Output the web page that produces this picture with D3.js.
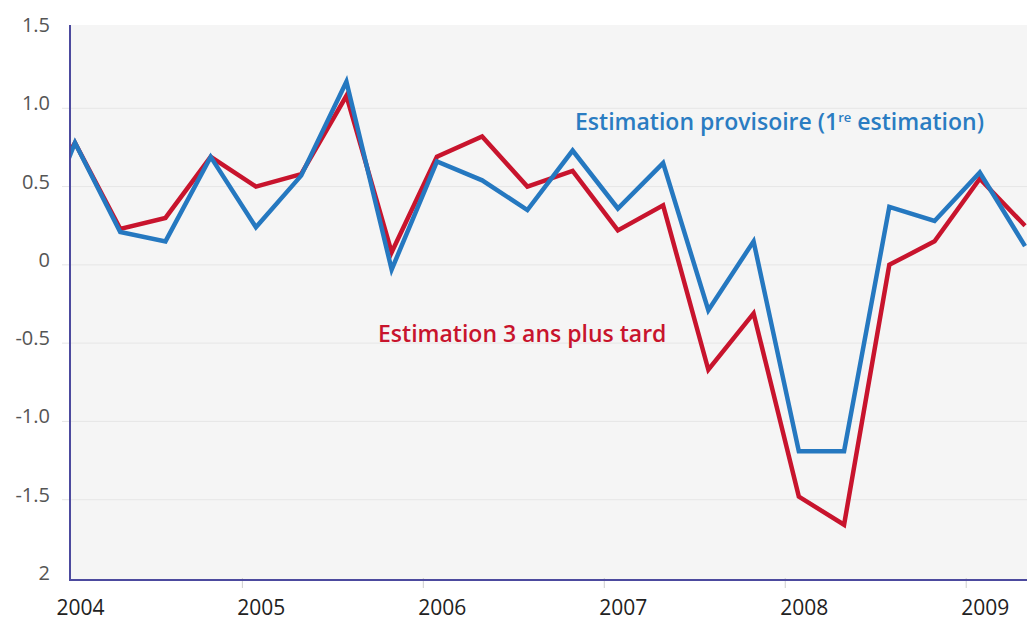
<!DOCTYPE html>
<html>
<head>
<meta charset="utf-8">
<script src="https://cdn.jsdelivr.net/npm/d3@7"></script>
<style>
    body { margin: 0; background: #ffffff; }
    .grid { stroke: #e6e6e6; stroke-width: 1; }
    .axis-line { stroke: #4c4a9e; stroke-width: 2; }
    .tick-mark { stroke: #cfcfcf; stroke-width: 1; }
    .y-label { font-family: "Open Sans", sans-serif; font-size: 20px; fill: #555555; }
    .x-label { font-family: "Open Sans", sans-serif; font-size: 21px; fill: #222222; }
    .series { fill: none; stroke-width: 4.5; stroke-linejoin: miter; }
    .legend { font-family: "Open Sans", sans-serif; font-size: 23px; font-weight: 600; }
</style>
</head>
<body>
<div id="chart"></div>
<script>

// quarters, from 2003 Q4 (only its stub shows at the left edge) to 2009 Q2
const quarters = [
    "2003T4",
    "2004T1", "2004T2", "2004T3", "2004T4",
    "2005T1", "2005T2", "2005T3", "2005T4",
    "2006T1", "2006T2", "2006T3", "2006T4",
    "2007T1", "2007T2", "2007T3", "2007T4",
    "2008T1", "2008T2", "2008T3", "2008T4",
    "2009T1", "2009T2"
];

// provisional estimate (1st estimate), blue
const firstEstimate = [
    0.05,
    0.78, 0.21, 0.15, 0.69,
    0.24, 0.57, 1.17, -0.03,
    0.66, 0.54, 0.35, 0.73,
    0.36, 0.65, -0.29, 0.15,
    -1.19, -1.19, 0.37, 0.28,
    0.59, 0.12
];

// estimate 3 years later, red
const laterEstimate = [
    0.30,
    0.78, 0.23, 0.30, 0.69,
    0.50, 0.58, 1.08, 0.08,
    0.69, 0.82, 0.50, 0.60,
    0.22, 0.38, -0.67, -0.31,
    -1.48, -1.66, 0.00, 0.15,
    0.55, 0.25
];

const years = [2004, 2005, 2006, 2007, 2008, 2009];
const yTicks = [1.5, 1.0, 0.5, 0, -0.5, -1.0, -1.5, -2];
const yTickLabels = ["1.5", "1.0", "0.5", "0", "-0.5", "-1.0", "-1.5", "2"];
const gridValues = [1.0, 0.5, 0, -0.5, -1.0, -1.5];


const width = 1027, height = 623;
const plot = { left: 70, right: 1027, top: 25, bottom: 580 };

// quarter string -> fractional year (points sit a little after the year tick)
const toTime = (q) => +q.slice(0, 4) + (+q.slice(5) - 1) / 4 + 0.075;

const xScale = d3.scaleLinear()
    .domain([2004, 2009.5])
    .range([61.4, 1056.7]);

const yScale = d3.scaleLinear()
    .domain([-2, 1.5])
    .range([578, 30]);

const svg = d3.select("#chart")
    .append("svg")
    .attr("width", width)
    .attr("height", height);

// plot background
svg.append("rect")
    .attr("x", plot.left)
    .attr("y", plot.top)
    .attr("width", plot.right - plot.left)
    .attr("height", plot.bottom - plot.top)
    .style("fill", "#f5f5f5");

// horizontal grid
svg.selectAll(".grid")
    .data(gridValues)
    .enter()
    .append("line")
    .attr("class", "grid")
    .attr("x1", 62)
    .attr("x2", plot.right)
    .attr("y1", (d) => yScale(d))
    .attr("y2", (d) => yScale(d));

// y labels
svg.selectAll(".y-label")
    .data(yTicks)
    .enter()
    .append("text")
    .attr("class", "y-label")
    .attr("x", 50)
    .attr("y", (d) => yScale(d) - 5)
    .attr("dy", "0.35em")
    .attr("text-anchor", "end")
    .text((d, i) => yTickLabels[i]);

// year ticks and labels
svg.selectAll(".tick-mark")
    .data(years.slice(1))
    .enter()
    .append("line")
    .attr("class", "tick-mark")
    .attr("x1", (d) => xScale(d))
    .attr("x2", (d) => xScale(d))
    .attr("y1", plot.bottom - 2)
    .attr("y2", plot.bottom + 8);

svg.selectAll(".x-label")
    .data(years)
    .enter()
    .append("text")
    .attr("class", "x-label")
    .attr("x", (d) => xScale(d) + 19)
    .attr("y", 615)
    .attr("text-anchor", "middle")
    .text((d) => d);

// lines, clipped to the plot
svg.append("clipPath")
    .attr("id", "clip")
    .append("rect")
    .attr("x", plot.left)
    .attr("y", 0)
    .attr("width", plot.right - plot.left)
    .attr("height", height);

const line = d3.line()
    .x((d) => xScale(toTime(d.q)))
    .y((d) => yScale(d.v));

const series = [
    { values: laterEstimate, color: "#c8142d" },
    { values: firstEstimate, color: "#2578c0" }
];

svg.selectAll(".series")
    .data(series)
    .enter()
    .append("path")
    .attr("class", "series")
    .attr("clip-path", "url(#clip)")
    .style("stroke", (d) => d.color)
    .attr("d", (d) => line(d.values.map((v, i) => ({ q: quarters[i], v: v }))));

// axes lines
svg.append("line")
    .attr("class", "axis-line")
    .attr("x1", plot.left).attr("x2", plot.left)
    .attr("y1", plot.top).attr("y2", plot.bottom + 1);
svg.append("line")
    .attr("class", "axis-line")
    .attr("x1", plot.left - 1).attr("x2", plot.right)
    .attr("y1", plot.bottom).attr("y2", plot.bottom);

// direct labels
const blueLabel = svg.append("text")
    .attr("class", "legend")
    .attr("x", 575)
    .attr("y", 130)
    .style("fill", "#2a7cc2");
blueLabel.append("tspan").text("Estimation provisoire (1");
blueLabel.append("tspan").attr("dy", -8).style("font-size", "13px").text("re");
blueLabel.append("tspan").attr("dy", 8).text(" estimation)");

svg.append("text")
    .attr("class", "legend")
    .attr("x", 378)
    .attr("y", 342)
    .style("fill", "#c8142d")
    .text("Estimation 3 ans plus tard");

</script>
</body>
</html>
